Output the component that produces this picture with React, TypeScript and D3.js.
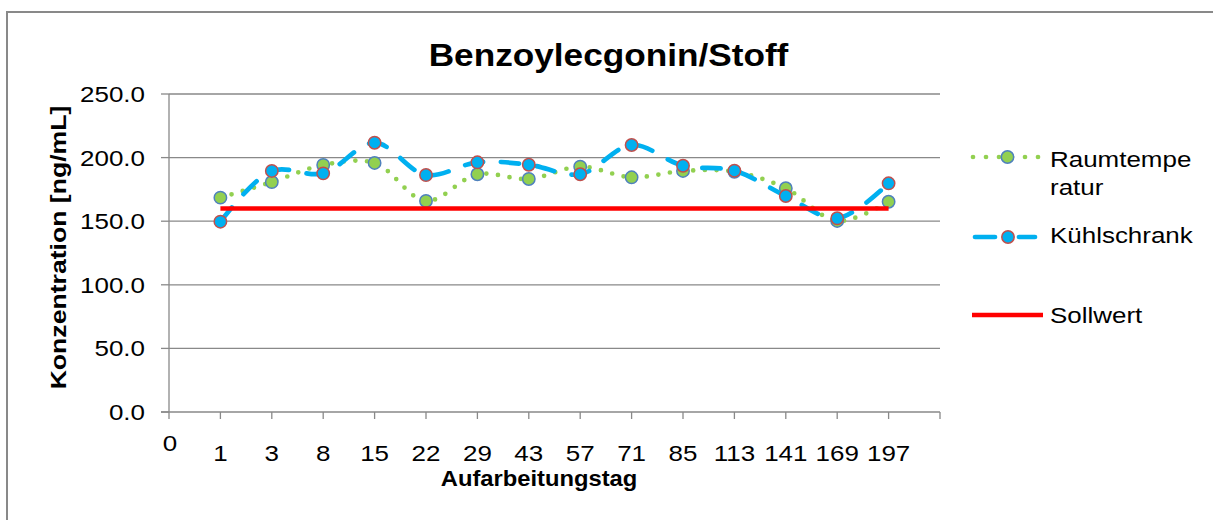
import React from "react";
import * as d3 from "d3";

const categories = ["0", "1", "3", "8", "15", "22", "29", "43", "57", "71", "85", "113", "141", "169", "197", ""];
const days = ["1", "3", "8", "15", "22", "29", "43", "57", "71", "85", "113", "141", "169", "197"];
const raumtemperatur = [168.5, 180.8, 194.2, 195.8, 165.9, 186.9, 183.2, 192.9, 184.5, 189.5, 188.9, 175.9, 150.2, 165.3];
const kuehlschrank = [149.6, 189.5, 187.6, 211.7, 186.3, 196.3, 194.4, 186.9, 209.9, 193.6, 189.7, 169.8, 152.3, 179.8];
const sollwert = [160, 160, 160, 160, 160, 160, 160, 160, 160, 160, 160, 160, 160, 160];
const yTicks = [0, 50, 100, 150, 200, 250];
const seriesNames = ["Raumtempe", "ratur", "Kühlschrank", "Sollwert"];

const FONT = "'Liberation Sans', Arial, sans-serif";
const GRID = "#898989";
const GREEN = "#92D050";
const GREEN_EDGE = "#4F81BD";
const BLUE = "#00B0F0";
const BLUE_EDGE = "#C0504D";
const RED = "#FF0000";

function T({ x, y, sx = 1.18, size = 22, weight = "normal", anchor = "start", rotate = 0, children }: any) {
  const tr = `translate(${x},${y})` + (rotate ? ` rotate(${rotate})` : "") + ` scale(${sx},1)`;
  return (
    <text transform={tr} fontFamily={FONT} fontSize={size} fontWeight={weight} textAnchor={anchor} fill="#000">
      {children}
    </text>
  );
}

export default function App() {
  const W = 1213;
  const H = 520;
  const x = d3.scalePoint<number>().domain(d3.range(categories.length)).range([169, 940]);
  const y = d3.scaleLinear().domain([0, 250]).range([412, 94]);
  const xd = (d: string) => x(categories.indexOf(d)) as number;

  const line = d3
    .line<number>()
    .x((_, i) => xd(days[i]))
    .y((v) => y(v))
    .curve(d3.curveCatmullRom.alpha(0.5));
  const straight = d3
    .line<number>()
    .x((_, i) => xd(days[i]))
    .y((v) => y(v));

  const fmt = d3.format(".1f");

  return (
    <svg width={W} height={H} style={{ position: "absolute", left: 0, top: 0, background: "#fff" }}>
      <rect x={0} y={0} width={W} height={H} fill="#fff" />
      <rect x={7} y={12} width={W + 20} height={H + 20} fill="none" stroke={GRID} strokeWidth={2} />

      {/* title */}
      <T x={608.5} y={66} size={32} weight="bold" anchor="middle" sx={1.1}>
        Benzoylecgonin/Stoff
      </T>

      {/* gridlines */}
      {yTicks.filter((t) => t > 0).map((t) => (
        <line key={"g" + t} x1={169} x2={940} y1={y(t)} y2={y(t)} stroke={GRID} strokeWidth={1.3} />
      ))}
      {/* y ticks and labels */}
      {yTicks.map((t) => (
        <g key={"y" + t}>
          <line x1={161} x2={169} y1={y(t)} y2={y(t)} stroke={GRID} strokeWidth={1.3} />
          <T x={145} y={y(t) + 8} anchor="end">
            {fmt(t)}
          </T>
        </g>
      ))}
      {/* axes */}
      <line x1={169} x2={169} y1={94} y2={412} stroke={GRID} strokeWidth={1.3} />
      <line x1={161} x2={940} y1={412} y2={412} stroke={GRID} strokeWidth={1.3} />
      {categories.map((c, i) => (
        <g key={"x" + i}>
          <line x1={x(i)} x2={x(i)} y1={412} y2={419} stroke={GRID} strokeWidth={1.3} />
          {c !== "" && (
            <T x={i === 0 ? 170 : x(i)} y={i === 0 ? 451 : 461} anchor="middle">
              {c}
            </T>
          )}
        </g>
      ))}

      {/* axis titles */}
      <T x={539} y={486} weight="bold" anchor="middle" sx={1.08}>
        Aufarbeitungstag
      </T>
      <T x={66} y={247.5} weight="bold" anchor="middle" rotate={-90} sx={1.21}>
        Konzentration [ng/mL]
      </T>

      {/* Raumtemperatur */}
      <path
        d={line(raumtemperatur) || ""}
        fill="none"
        stroke={GREEN}
        strokeWidth={4.7}
        strokeLinecap="round"
        strokeDasharray="0 11.7"
      />
      {raumtemperatur.map((v, i) => (
        <circle key={"r" + i} cx={xd(days[i])} cy={y(v)} r={6.2} fill={GREEN} stroke={GREEN_EDGE} strokeWidth={1.5} />
      ))}

      {/* Kühlschrank */}
      <path
        d={line(kuehlschrank) || ""}
        fill="none"
        stroke={BLUE}
        strokeWidth={4.7}
        strokeLinecap="round"
        strokeDasharray="18.3 17.7"
      />
      {kuehlschrank.map((v, i) => (
        <circle key={"k" + i} cx={xd(days[i])} cy={y(v)} r={6.2} fill={BLUE} stroke={BLUE_EDGE} strokeWidth={1.5} />
      ))}

      {/* Sollwert */}
      <path d={straight(sollwert) || ""} fill="none" stroke={RED} strokeWidth={4.7} />

      {/* legend */}
      <line x1={973} x2={1040} y1={157} y2={157} stroke={GREEN} strokeWidth={4.7} strokeLinecap="round" strokeDasharray="0 13" />
      <circle cx={1007.5} cy={157} r={6.2} fill={GREEN} stroke={GREEN_EDGE} strokeWidth={1.5} />
      <T x={1050} y={166.7}>{seriesNames[0]}</T>
      <T x={1050} y={195}>{seriesNames[1]}</T>

      <line x1={975} x2={995} y1={237} y2={237} stroke={BLUE} strokeWidth={4.7} strokeLinecap="round" />
      <line x1={1019} x2={1035} y1={237} y2={237} stroke={BLUE} strokeWidth={4.7} strokeLinecap="round" />
      <circle cx={1008} cy={237} r={6.2} fill={BLUE} stroke={BLUE_EDGE} strokeWidth={1.5} />
      <T x={1050} y={243}>{seriesNames[2]}</T>

      <line x1={972} x2={1043} y1={315} y2={315} stroke={RED} strokeWidth={4.7} />
      <T x={1050} y={323}>{seriesNames[3]}</T>
    </svg>
  );
}
